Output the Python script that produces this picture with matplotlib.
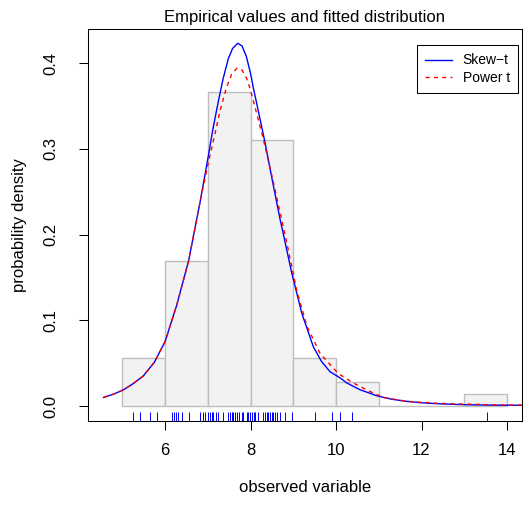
import numpy as np
import matplotlib
matplotlib.use("Agg")
import matplotlib.pyplot as plt
from matplotlib.lines import Line2D

plt.rcParams['font.family'] = ['Liberation Sans', 'DejaVu Sans']

# histogram of the observations (counts per unit bin)
bin_edges = [5, 6, 7, 8, 9, 10, 11, 12, 13, 14]
bin_counts = [4, 12, 26, 22, 4, 2, 0, 0, 1]

# observations shown as a rug
obs = [5.24, 5.42, 5.65, 5.81, 6.16, 6.21, 6.26, 6.30, 6.39, 6.57, 6.82, 6.88,
       6.94, 7.01, 7.05, 7.09, 7.13, 7.19, 7.25, 7.36, 7.48, 7.52, 7.56, 7.60,
       7.64, 7.68, 7.74, 7.79, 7.83, 7.91, 7.95, 7.99, 8.03, 8.07, 8.11, 8.18,
       8.30, 8.34, 8.38, 8.42, 8.46, 8.50, 8.53, 8.57, 8.61, 8.69, 8.81, 8.96,
       9.51, 9.90, 10.09, 10.38, 13.53]

# fitted densities
skt_x = [4.56, 4.80, 5.03, 5.25, 5.49, 5.75, 6.00, 6.27, 6.55, 6.82, 7.00, 7.12,
         7.25, 7.36, 7.48, 7.58, 7.70, 7.80, 7.90, 8.00, 8.07, 8.20, 8.34, 8.53,
         8.69, 8.77, 8.96, 9.20, 9.47, 9.66, 9.86, 10.09, 10.25, 10.56, 10.80,
         10.95, 11.30, 11.65, 12.00, 12.43, 13.00, 13.60, 14.40]
skt_y = [0.010, 0.014, 0.019, 0.026, 0.035, 0.051, 0.075, 0.117, 0.169, 0.238,
         0.288, 0.323, 0.356, 0.382, 0.405, 0.417, 0.423, 0.420, 0.408, 0.388,
         0.370, 0.340, 0.307, 0.258, 0.218, 0.200, 0.156, 0.108, 0.069, 0.052,
         0.040, 0.033, 0.027, 0.019, 0.0148, 0.012, 0.008, 0.0055, 0.0038,
         0.0026, 0.0016, 0.0011, 0.0008]

pwt_x = [4.56, 4.80, 5.03, 5.25, 5.49, 5.75, 6.00, 6.27, 6.55, 6.82, 7.00, 7.17,
         7.29, 7.44, 7.56, 7.68, 7.80, 7.91, 7.99, 8.15, 8.30, 8.53, 8.85, 9.08,
         9.32, 9.63, 10.05, 10.40, 10.72, 11.10, 11.65, 12.43, 13.60, 14.40]
pwt_y = [0.010, 0.014, 0.019, 0.026, 0.035, 0.051, 0.075, 0.117, 0.169, 0.238,
         0.281, 0.318, 0.345, 0.372, 0.387, 0.394, 0.392, 0.382, 0.370, 0.340,
         0.311, 0.262, 0.190, 0.135, 0.093, 0.061, 0.038, 0.027, 0.0187, 0.0101,
         0.0055, 0.0030, 0.0015, 0.0010]

n_obs = sum(bin_counts)
dens = np.array(bin_counts) / (n_obs * np.diff(bin_edges))

fig = plt.figure(figsize=(5.31, 5.05), dpi=100)
ax = fig.add_axes([0.1648, 0.1669, 0.8183, 0.7750])

ax.bar(bin_edges[:-1], dens, width=np.diff(bin_edges), align='edge',
       facecolor='#F2F2F2', edgecolor='#BEBEBE', linewidth=1.0, zorder=1)
ax.plot(pwt_x, pwt_y, color='red', lw=1.0, dashes=(3, 3), zorder=3)
ax.plot(skt_x, skt_y, color='blue', lw=1.0, zorder=2)
ax.vlines(obs, 0, 0.022, transform=ax.get_xaxis_transform(), color='blue', lw=0.7)

ax.set_xlim(4.187, 14.35)
ax.set_ylim(-0.0171, 0.4393)
ax.set_xticks([6, 8, 10, 12, 14])
ax.set_yticks([0.0, 0.1, 0.2, 0.3, 0.4])
ax.set_yticklabels(['0.0', '0.1', '0.2', '0.3', '0.4'])
plt.setp(ax.get_yticklabels(), rotation=90, va='center')
ax.tick_params(axis='both', length=6.8, width=0.75, labelsize=12)
ax.tick_params(axis='x', pad=9)
ax.tick_params(axis='y', pad=14)
for s in ax.spines.values():
    s.set_linewidth(0.75)

ax.set_xlabel('observed variable', fontsize=12, labelpad=16)
ax.set_ylabel('probability density', fontsize=12, labelpad=12)
ax.set_title('Empirical values and fitted distribution', fontsize=12, pad=5.5)

handles = [Line2D([], [], color='blue', lw=1.0),
           Line2D([], [], color='red', lw=1.0, dashes=(3, 3))]
leg = ax.legend(handles, ['Skew\u2212t', 'Power t'], loc='upper right',
                bbox_to_anchor=(0.9915, 0.9599), borderaxespad=0, fancybox=False,
                edgecolor='black', framealpha=1, fontsize=10, handlelength=1.9,
                handletextpad=0.8, borderpad=0.6, labelspacing=0.25)
leg.get_frame().set_linewidth(0.75)

fig.savefig('out.png', dpi=100)
